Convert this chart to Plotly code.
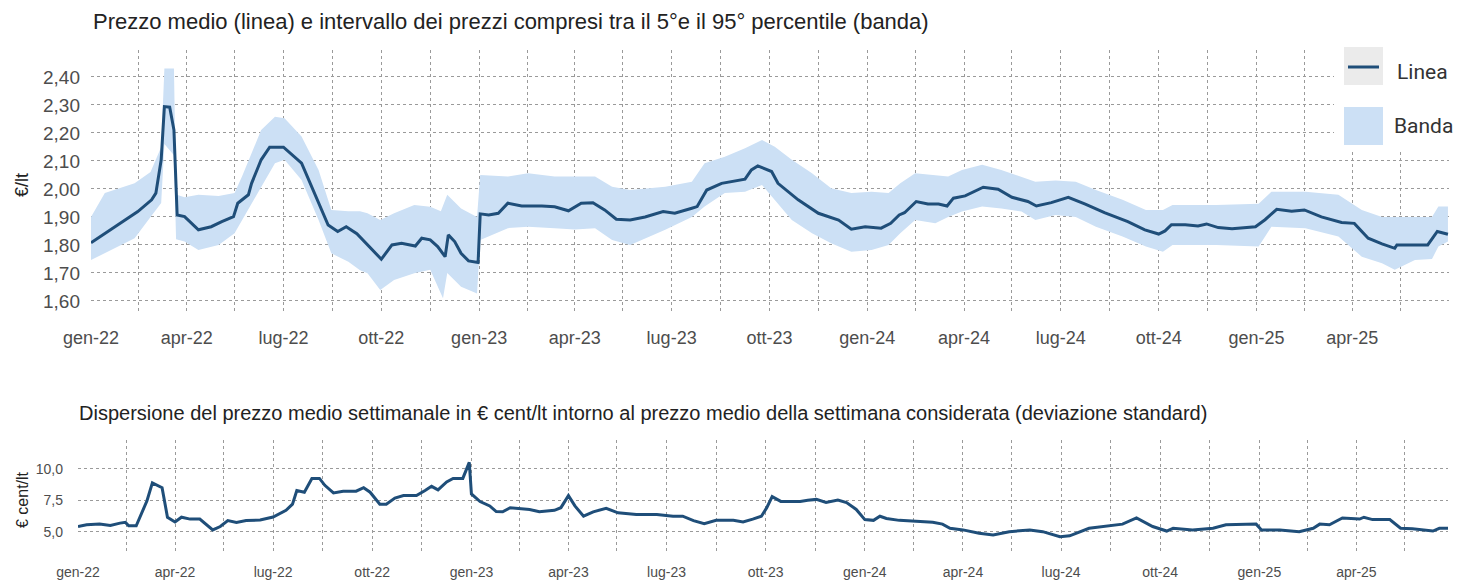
import plotly.graph_objects as go

# --- mean price line (EUR/lt) ---
LINE_DATES = [
    "2022-01-01", "2022-01-26", "2022-02-14", "2022-02-27", "2022-03-03", "2022-03-08", "2022-03-11",
    "2022-03-16", "2022-03-20", "2022-03-23", "2022-03-30", "2022-04-12", "2022-04-24", "2022-05-04",
    "2022-05-15", "2022-05-19", "2022-05-29", "2022-06-01", "2022-06-10", "2022-06-18", "2022-07-01",
    "2022-07-18", "2022-07-30", "2022-08-12", "2022-08-21", "2022-08-29", "2022-09-08", "2022-09-18",
    "2022-10-01", "2022-10-11", "2022-10-20", "2022-11-02", "2022-11-08", "2022-11-16", "2022-11-23",
    "2022-11-30", "2022-12-03", "2022-12-09", "2022-12-15", "2022-12-22", "2022-12-31",
    "2023-01-02", "2023-01-10", "2023-01-19", "2023-01-28", "2023-02-10", "2023-03-01", "2023-03-13",
    "2023-03-26", "2023-04-07", "2023-04-18", "2023-04-29", "2023-05-10", "2023-05-23", "2023-06-06",
    "2023-06-23", "2023-07-04", "2023-07-20", "2023-07-25", "2023-08-03", "2023-08-17", "2023-09-08",
    "2023-09-14", "2023-09-20", "2023-10-03", "2023-10-09", "2023-10-28", "2023-11-16", "2023-12-05",
    "2023-12-17", "2023-12-30",
    "2024-01-14", "2024-01-23", "2024-01-31", "2024-02-05", "2024-02-16", "2024-02-27", "2024-03-08",
    "2024-03-16", "2024-03-22", "2024-04-02", "2024-04-19", "2024-05-03", "2024-05-16", "2024-05-31",
    "2024-06-08", "2024-06-22", "2024-07-08", "2024-07-24", "2024-08-11", "2024-09-02", "2024-09-18",
    "2024-10-01", "2024-10-07", "2024-10-13", "2024-10-26", "2024-11-07", "2024-11-15", "2024-11-26",
    "2024-12-09", "2024-12-31",
    "2025-01-09", "2025-01-20", "2025-02-03", "2025-02-15", "2025-03-03", "2025-03-22", "2025-04-03",
    "2025-04-16", "2025-04-29", "2025-05-11", "2025-05-13", "2025-06-11", "2025-06-20", "2025-06-30",
]
LINE_VALUES = [
    1.808, 1.871, 1.919, 1.961, 1.985, 2.104, 2.294,
    2.292, 2.210, 1.907, 1.901, 1.854, 1.865, 1.883,
    1.901, 1.949, 1.979, 2.020, 2.104, 2.149, 2.149,
    2.092, 1.985, 1.871, 1.848, 1.865, 1.840, 1.800,
    1.749, 1.800, 1.806, 1.796, 1.824, 1.818, 1.794,
    1.758, 1.836, 1.812, 1.770, 1.743, 1.737,
    1.911, 1.907, 1.913, 1.949, 1.939, 1.939, 1.936,
    1.922, 1.949, 1.951, 1.925, 1.892, 1.889, 1.900,
    1.919, 1.913, 1.931, 1.937, 1.996, 2.020, 2.035,
    2.068, 2.082, 2.062, 2.020, 1.961, 1.913, 1.889,
    1.856, 1.865,
    1.860, 1.877, 1.907, 1.915, 1.955, 1.946, 1.946,
    1.939, 1.967, 1.975, 2.006, 1.999, 1.970, 1.955,
    1.939, 1.951, 1.970, 1.946, 1.915, 1.883, 1.854,
    1.839, 1.850, 1.872, 1.872, 1.868, 1.875, 1.862,
    1.858, 1.865,
    1.890, 1.927, 1.920, 1.925, 1.900, 1.880, 1.877,
    1.824, 1.804, 1.788, 1.800, 1.800, 1.848, 1.838,
]

# --- 5th / 95th percentile band ---
BAND_DATES = [
    "2022-01-01", "2022-01-14", "2022-02-11", "2022-02-26", "2022-03-08", "2022-03-11", "2022-03-20",
    "2022-03-22", "2022-03-30", "2022-04-12", "2022-05-01", "2022-05-16", "2022-05-23", "2022-06-10",
    "2022-06-23", "2022-07-02", "2022-07-18", "2022-08-03", "2022-08-15", "2022-08-31", "2022-09-11",
    "2022-09-18", "2022-09-30", "2022-10-13", "2022-11-01", "2022-11-16", "2022-11-26", "2022-11-28",
    "2022-12-02", "2022-12-15", "2022-12-30",
    "2023-01-02", "2023-01-28", "2023-02-16", "2023-03-13", "2023-04-01", "2023-04-20", "2023-05-06",
    "2023-05-23", "2023-06-25", "2023-07-20", "2023-08-01", "2023-08-20", "2023-09-08", "2023-09-24",
    "2023-10-06", "2023-10-22", "2023-11-10", "2023-11-28", "2023-12-17",
    "2024-01-05", "2024-01-21", "2024-02-01", "2024-02-15", "2024-03-05", "2024-03-17", "2024-03-30",
    "2024-04-18", "2024-05-06", "2024-05-25", "2024-06-07", "2024-06-26", "2024-07-15", "2024-08-03",
    "2024-08-28", "2024-09-19", "2024-10-05", "2024-10-14", "2024-11-24",
    "2025-01-03", "2025-01-15", "2025-02-16", "2025-03-19", "2025-04-10", "2025-04-29", "2025-05-11",
    "2025-05-30", "2025-06-15", "2025-06-21", "2025-06-30",
]
BAND_HIGH = [
    1.900, 1.985, 2.020, 2.060, 2.150, 2.430, 2.430,
    1.980, 1.970, 1.979, 1.975, 1.985, 2.044, 2.210,
    2.258, 2.252, 2.187, 2.068, 1.925, 1.920, 1.920,
    1.913, 1.889, 1.913, 1.943, 1.936, 1.920, 1.940,
    1.979, 1.930, 1.900,
    2.050, 2.044, 2.056, 2.044, 2.044, 2.044, 2.008,
    1.996, 2.008, 2.026, 2.092, 2.115, 2.145, 2.175,
    2.151, 2.104, 2.056, 2.002, 1.985,
    1.990, 1.985, 2.020, 2.056, 2.050, 2.044, 2.068,
    2.086, 2.068, 2.044, 2.026, 2.030, 2.026, 1.996,
    1.961, 1.925, 1.925, 1.943, 1.943,
    1.947, 1.990, 1.990, 1.979, 1.925, 1.900, 1.900,
    1.900, 1.900, 1.937, 1.937,
]
BAND_LOW = [
    1.746, 1.770, 1.824, 1.900, 1.950, 2.160, 2.120,
    1.820, 1.812, 1.782, 1.800, 1.842, 1.889, 2.008,
    2.092, 2.104, 2.032, 1.889, 1.770, 1.740, 1.710,
    1.699, 1.639, 1.675, 1.699, 1.711, 1.630, 1.610,
    1.700, 1.651, 1.627,
    1.818, 1.860, 1.865, 1.860, 1.855, 1.860, 1.818,
    1.800, 1.854, 1.900, 1.937, 1.985, 1.990, 2.014,
    1.961, 1.889, 1.842, 1.806, 1.776,
    1.782, 1.800, 1.842, 1.889, 1.877, 1.900, 1.919,
    1.937, 1.930, 1.919, 1.889, 1.907, 1.900, 1.865,
    1.830, 1.794, 1.776, 1.800, 1.800,
    1.794, 1.865, 1.860, 1.830, 1.758, 1.735, 1.711,
    1.746, 1.750, 1.794, 1.812,
]

# --- weekly standard deviation (EUR cent/lt) ---
STD_DATES = [
    "2022-01-01", "2022-01-09", "2022-01-21", "2022-01-31", "2022-02-09", "2022-02-14", "2022-02-17",
    "2022-02-24", "2022-03-06", "2022-03-11", "2022-03-20", "2022-03-25", "2022-04-01", "2022-04-07",
    "2022-04-15", "2022-04-24", "2022-05-06", "2022-05-13", "2022-05-20", "2022-05-28", "2022-06-06",
    "2022-06-19", "2022-07-01", "2022-07-13", "2022-07-19", "2022-07-23", "2022-07-30", "2022-08-06",
    "2022-08-13", "2022-08-18", "2022-08-26", "2022-09-04", "2022-09-16", "2022-09-23", "2022-09-29",
    "2022-10-08", "2022-10-14", "2022-10-22", "2022-10-30", "2022-11-11", "2022-11-19", "2022-11-25",
    "2022-12-01", "2022-12-09", "2022-12-15", "2022-12-24", "2022-12-30",
    "2023-01-01", "2023-01-09", "2023-01-18", "2023-01-24", "2023-01-30", "2023-02-06", "2023-02-24",
    "2023-03-05", "2023-03-19", "2023-03-25", "2023-04-01", "2023-04-07", "2023-04-15", "2023-04-24",
    "2023-05-06", "2023-05-17", "2023-06-03", "2023-06-22", "2023-07-07", "2023-07-16", "2023-07-26",
    "2023-08-05", "2023-08-16", "2023-09-01", "2023-09-10", "2023-09-19", "2023-09-27", "2023-10-02",
    "2023-10-07", "2023-10-15", "2023-11-02", "2023-11-09", "2023-11-17", "2023-11-26", "2023-12-07",
    "2023-12-15", "2023-12-24",
    "2024-01-01", "2024-01-09", "2024-01-15", "2024-01-21", "2024-02-02", "2024-02-18", "2024-03-04",
    "2024-03-13", "2024-03-20", "2024-04-01", "2024-04-16", "2024-04-29", "2024-05-14", "2024-06-02",
    "2024-06-14", "2024-06-30", "2024-07-09", "2024-07-27", "2024-08-12", "2024-08-27", "2024-09-09",
    "2024-09-24", "2024-10-07", "2024-10-13", "2024-10-31", "2024-11-19", "2024-12-01", "2024-12-29",
    "2025-01-03", "2025-01-20", "2025-02-07", "2025-02-20", "2025-02-26", "2025-03-07", "2025-03-19",
    "2025-04-04", "2025-04-08", "2025-04-16", "2025-05-02", "2025-05-12", "2025-05-23", "2025-06-11",
    "2025-06-17", "2025-06-25",
]
STD_VALUES = [
    5.41, 5.55, 5.60, 5.49, 5.68, 5.74, 5.47,
    5.47, 7.46, 8.88, 8.50, 6.15, 5.77, 6.15,
    6.00, 6.00, 5.14, 5.41, 5.88, 5.74, 5.88,
    5.93, 6.17, 6.70, 7.19, 8.28, 8.14, 9.24,
    9.24, 8.69, 8.09, 8.22, 8.22, 8.50, 8.14,
    7.19, 7.19, 7.68, 7.87, 7.87, 8.28, 8.61,
    8.33, 8.96, 9.24, 9.24, 10.52,
    8.00, 7.40, 7.05, 6.60, 6.58, 6.91, 6.77,
    6.58, 6.70, 6.91, 7.87, 7.05, 6.23, 6.58,
    6.86, 6.50, 6.37, 6.37, 6.23, 6.23, 5.88,
    5.63, 5.90, 5.90, 5.77, 6.00, 6.23, 6.91,
    7.79, 7.41, 7.41, 7.50, 7.57, 7.32, 7.52,
    7.32, 6.77,
    5.96, 5.90, 6.23, 6.05, 5.90, 5.82, 5.74,
    5.60, 5.27, 5.14, 4.87, 4.73, 5.00, 5.14,
    5.00, 4.60, 4.67, 5.27, 5.41, 5.60, 6.09,
    5.41, 5.05, 5.27, 5.14, 5.27, 5.55, 5.60,
    5.14, 5.14, 5.00, 5.27, 5.60, 5.55, 6.09,
    6.00, 6.15, 5.96, 5.96, 5.27, 5.23, 5.05,
    5.27, 5.27,
]

# --- axis ticks ---
TICK_DATES = [
    "2022-01-01", "2022-04-01", "2022-07-01", "2022-10-01", "2023-01-01", "2023-04-01", "2023-07-01",
    "2023-10-01", "2024-01-01", "2024-04-01", "2024-07-01", "2024-10-01", "2025-01-01", "2025-04-01",
]
TICK_LABELS = [
    "gen-22", "apr-22", "lug-22", "ott-22", "gen-23", "apr-23", "lug-23",
    "ott-23", "gen-24", "apr-24", "lug-24", "ott-24", "gen-25", "apr-25",
]
MINOR_DATES = [
    "2022-02-15", "2022-05-16", "2022-08-16", "2022-11-16", "2023-02-15", "2023-05-16", "2023-08-16",
    "2023-11-16", "2024-02-15", "2024-05-16", "2024-08-16", "2024-11-16", "2025-02-15", "2025-05-16",
    "2025-07-01",
]
PRICE_TICKS = [1.6, 1.7, 1.8, 1.9, 2.0, 2.1, 2.2, 2.3, 2.4]
STD_TICKS = [5.0, 7.5, 10.0]
LEGEND_LABELS = ["Linea", "Banda"]

# the page body adds an 8px margin, so the figure is 8px smaller than the window
OFF = 8
W, H = 1463 - OFF, 581 - OFF
LINE_COLOR = "#1F4E79"
BAND_COLOR = "#CCE0F5"
GRID = "#9A9A9A"
TICK_FONT = "#4D4D4D"
FONT = "Liberation Sans, Arial, sans-serif"


def px_x(p):
    return (p - OFF) / W


def px_y(p):
    return 1 - (p - OFF) / H


fig = go.Figure()

fig.add_scatter(
    x=BAND_DATES, y=BAND_LOW, mode="lines", line=dict(width=0, color=BAND_COLOR),
    showlegend=False, hoverinfo="skip", xaxis="x", yaxis="y",
)
fig.add_scatter(
    x=BAND_DATES, y=BAND_HIGH, mode="lines", line=dict(width=0, color=BAND_COLOR),
    fill="tonexty", fillcolor=BAND_COLOR, name=LEGEND_LABELS[1], showlegend=False,
    xaxis="x", yaxis="y",
)
fig.add_scatter(
    x=LINE_DATES, y=LINE_VALUES, mode="lines", line=dict(width=3, color=LINE_COLOR),
    name=LEGEND_LABELS[0], showlegend=False, xaxis="x", yaxis="y",
)
fig.add_scatter(
    x=STD_DATES, y=STD_VALUES, mode="lines", line=dict(width=3, color=LINE_COLOR),
    showlegend=False, xaxis="x2", yaxis="y2",
)

grid = dict(
    showgrid=True, gridcolor=GRID, gridwidth=1, griddash="3px,3px",
    zeroline=False, showline=False, automargin=False, ticks="",
)
minor = dict(tickvals=MINOR_DATES, showgrid=True, gridcolor=GRID, griddash="3px,3px", gridwidth=1)

# hand-drawn legend in the top-right corner (ggplot-like keys)
legend_shapes = [
    dict(type="rect", xref="paper", yref="paper", x0=px_x(1334), x1=1, y0=px_y(150), y1=px_y(40),
         fillcolor="white", line=dict(width=0), layer="above"),
    dict(type="rect", xref="paper", yref="paper", x0=px_x(1344), x1=px_x(1383), y0=px_y(85), y1=px_y(47),
         fillcolor="#EBEBEB", line=dict(width=0), layer="above"),
    dict(type="line", xref="paper", yref="paper", x0=px_x(1348), x1=px_x(1379), y0=px_y(67), y1=px_y(67),
         line=dict(color=LINE_COLOR, width=3), layer="above"),
    dict(type="rect", xref="paper", yref="paper", x0=px_x(1344), x1=px_x(1383), y0=px_y(145), y1=px_y(107),
         fillcolor=BAND_COLOR, line=dict(width=0), layer="above"),
]

fig.update_layout(
    width=W, height=H,
    margin=dict(l=0, r=0, t=0, b=0),
    paper_bgcolor="white", plot_bgcolor="white",
    separators=",.",
    showlegend=False,
    font=dict(family=FONT, color=TICK_FONT),
    xaxis=dict(
        domain=[px_x(91), px_x(1449)], range=["2022-01-01", "2025-07-01"], anchor="y",
        tickvals=TICK_DATES, ticktext=TICK_LABELS, ticklabelstandoff=12,
        tickfont=dict(size=18, color=TICK_FONT), minor=minor, **grid,
    ),
    yaxis=dict(
        domain=[px_y(313), px_y(50)], range=[1.557, 2.496], anchor="x",
        tickvals=PRICE_TICKS, tickformat=".2f", ticklabelstandoff=10,
        tickfont=dict(size=19, color=TICK_FONT), **grid,
    ),
    xaxis2=dict(
        domain=[px_x(78), px_x(1448)], range=["2022-01-01", "2025-06-25"], anchor="y2",
        tickvals=TICK_DATES, ticktext=TICK_LABELS, ticklabelstandoff=9,
        tickfont=dict(size=14, color=TICK_FONT), minor=minor, **grid,
    ),
    yaxis2=dict(
        domain=[px_y(553), px_y(440)], range=[3.3, 12.3], anchor="x2",
        tickvals=STD_TICKS, tickformat=".1f", ticklabelstandoff=14,
        tickfont=dict(size=14, color=TICK_FONT), **grid,
    ),
    shapes=legend_shapes,
    annotations=[
        dict(
            text="Prezzo medio (linea) e intervallo dei prezzi compresi tra il 5°e il 95° percentile (banda)",
            x=px_x(91), y=px_y(22), xref="paper", yref="paper", xanchor="left", yanchor="middle",
            showarrow=False, font=dict(size=22, color="#222222"),
        ),
        dict(
            text="Dispersione del prezzo medio settimanale in € cent/lt intorno al prezzo medio della settimana considerata (deviazione standard)",
            x=px_x(77), y=px_y(413), xref="paper", yref="paper", xanchor="left", yanchor="middle",
            showarrow=False, font=dict(size=20, color="#222222"),
        ),
        dict(
            text="€/lt", x=px_x(22), y=px_y(185), xref="paper", yref="paper", textangle=-90,
            xanchor="center", yanchor="middle", showarrow=False, font=dict(size=18, color="#222222"),
        ),
        dict(
            text="€ cent/lt", x=px_x(22), y=px_y(500), xref="paper", yref="paper", textangle=-90,
            xanchor="center", yanchor="middle", showarrow=False, font=dict(size=16, color="#222222"),
        ),
        dict(
            text=LEGEND_LABELS[0], x=px_x(1395), y=px_y(72), xref="paper", yref="paper",
            xanchor="left", yanchor="middle", showarrow=False,
            font=dict(size=21, color="#333333", family="Roboto, sans-serif"),
        ),
        dict(
            text=LEGEND_LABELS[1], x=px_x(1392), y=px_y(126), xref="paper", yref="paper",
            xanchor="left", yanchor="middle", showarrow=False,
            font=dict(size=21, color="#333333", family="Roboto, sans-serif"),
        ),
    ],
)

fig.write_html("out.html")
